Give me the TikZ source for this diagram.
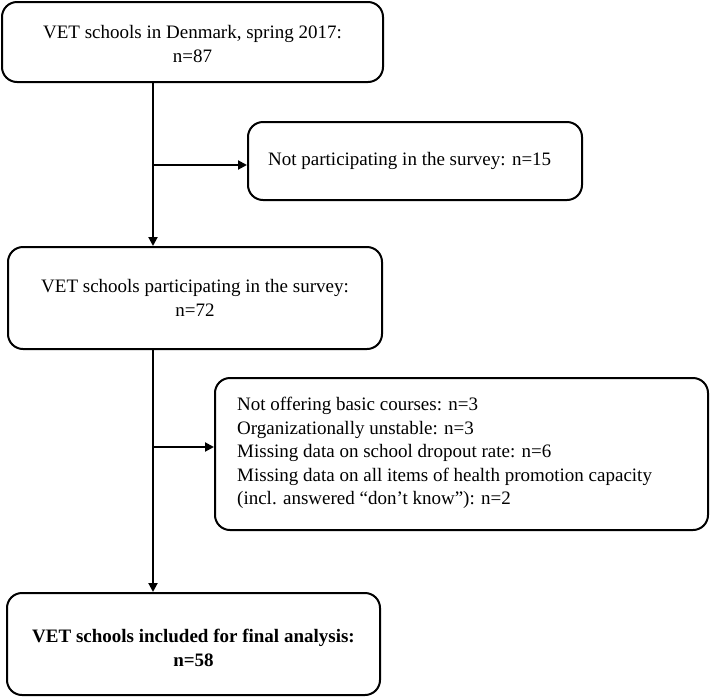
\documentclass[tikz,border=0pt]{standalone}
\usepackage{fontspec}
\setmainfont{Liberation Serif}
\usetikzlibrary{arrows.meta}
\begin{document}
\begin{tikzpicture}[x=1pt,y=-1pt,
  box/.style={draw=black, line width=2pt, rounded corners=15pt, inner sep=0pt},
  txt/.style={font=\fontsize{19}{23.5}\selectfont, inner sep=0pt},
  conn/.style={line width=2pt, -{Triangle[length=9pt,width=9pt]}}]
\useasboundingbox (0,0) rectangle (710,697);
% boxes
\draw[box] (2,2) rectangle (383,82);
\node[txt, align=center] (t1) at (192.5,44) {VET schools in Denmark, spring 2017:\\n=87};
\coordinate (b1) at (153,82);
\node[box, minimum width=334pt, minimum height=78pt] (b3) at (415,161) {};
\node[txt, anchor=west] (t3) at (268,161) {Not participating in the survey: n=15};
\node[box, minimum width=374pt, minimum height=102pt] (b2) at (195,298) {};
\node[txt, align=center] (t2) at (195,298) {VET schools participating in the survey:\\n=72};
\node[box, minimum width=493pt, minimum height=152pt] (b4) at (461.5,454) {};
\node[txt, align=left, anchor=west] (t4) at (237,453) {Not offering basic courses: n=3\\Organizationally unstable: n=3\\Missing data on school dropout rate: n=6\\Missing data on all items of health promotion capacity\\(incl. answered “don’t know”): n=2};
\node[box, minimum width=373pt, minimum height=102pt] (b5) at (193.5,644) {};
\node[txt, align=center, font=\fontsize{19}{23.5}\selectfont\bfseries] (t5) at (193.5,648) {VET schools included for final analysis:\\n=58};
% connectors
\coordinate (top1) at (153,82);
\coordinate (j1) at (153,165);
\coordinate (j2) at (153,447);
\draw[conn] (top1) -- (top1 |- b2.north);
\draw[conn] (j1) -- (j1 -| b3.west);
\draw[conn] (b2.south -| top1) -- (b5.north -| top1);
\draw[conn] (j2) -- (j2 -| b4.west);
\end{tikzpicture}
\end{document}
